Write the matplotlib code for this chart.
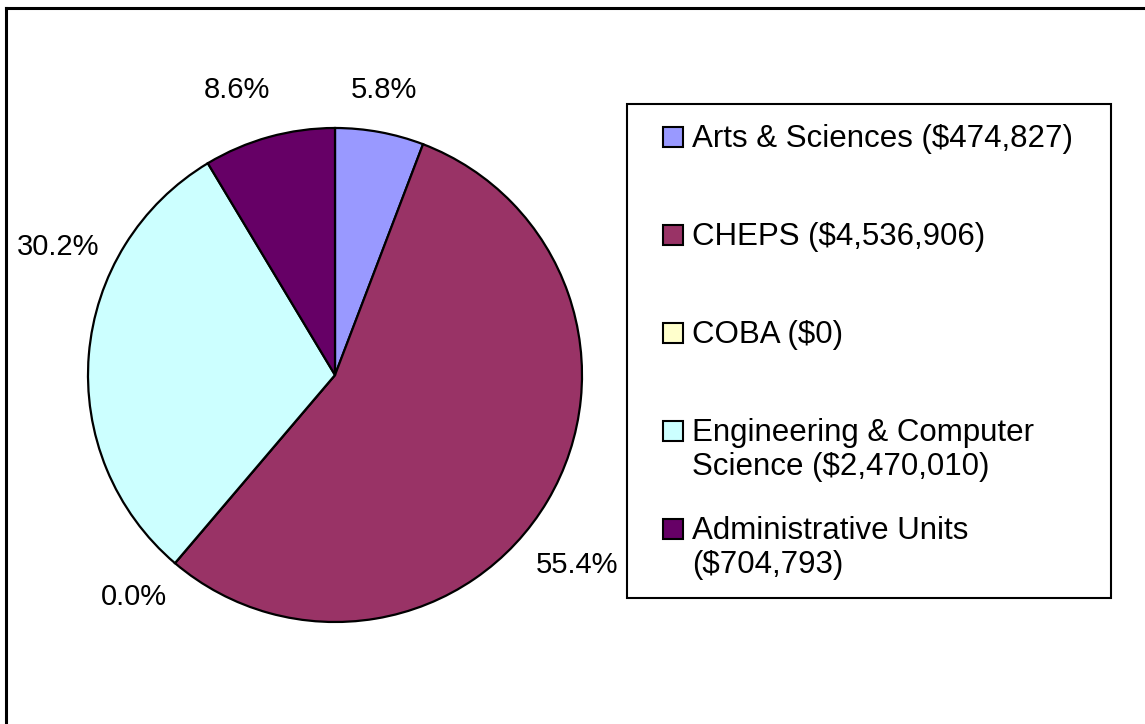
import textwrap
import matplotlib
matplotlib.use("Agg")
import matplotlib.pyplot as plt
from matplotlib.patches import Rectangle
from matplotlib.lines import Line2D

plt.rcParams['font.family'] = ['Liberation Sans', 'DejaVu Sans']

units = ["Arts & Sciences", "CHEPS", "COBA",
         "Engineering & Computer Science", "Administrative Units"]
funding = [474827, 4536906, 0, 2470010, 704793]
colors = ["#9999FF", "#993366", "#FFFFCC", "#CCFFFF", "#660066"]

W, H = 1145, 724
fig = plt.figure(figsize=(W / 100, H / 100), dpi=100)

# pie axes: centre (335, 375) px from top-left, radius 247 px
cx, cy, r = 335, 375, 247
span = 1.45
ax = fig.add_axes([(cx - span * r) / W, (H - cy - span * r) / H,
                   2 * span * r / W, 2 * span * r / H])
wedges, _, pcts = ax.pie(funding, colors=colors, startangle=90, counterclock=False,
                         autopct="%1.1f%%", pctdistance=1.2,
                         wedgeprops=dict(edgecolor="black", linewidth=1.6),
                         textprops=dict(fontsize=21, color="black"))
ax.set_xlim(-span, span)
ax.set_ylim(-span, span)
ax.set_aspect("equal")
ax.axis("off")

# label placement like Excel's "outside end" (radius units)
label_xy = [(0.20, 1.155), (0.98, -0.77), (-0.815, -0.90), (-1.12, 0.52), (-0.395, 1.155)]
for t, (x, y) in zip(pcts, label_xy):
    t.set_position((x, y))
    t.set_ha("center")
    t.set_va("center")
    t.set_clip_on(False)

# legend box, drawn in pixel coords
def px(x, y):
    return x / W, 1 - y / H

bx0, by0, bx1, by1 = 627, 104, 1111, 598
fig.patches.append(Rectangle(px(bx0, by1), (bx1 - bx0) / W, (by1 - by0) / H,
                             transform=fig.transFigure, facecolor="white",
                             edgecolor="black", linewidth=1.5))
base0, step, line_h = 147, 98, 34
for i, (name, val, col) in enumerate(zip(units, funding, colors)):
    base = base0 + i * step
    fig.patches.append(Rectangle(px(663, base), 20 / W, 20 / H,
                                 transform=fig.transFigure, facecolor=col,
                                 edgecolor="black", linewidth=1.5))
    lines = textwrap.wrap(f"{name} (${val:,})", 26)
    for j, ln in enumerate(lines):
        fig.text(*px(692, base + j * line_h), ln, fontsize=22.5,
                 ha="left", va="baseline")

# outer frame (top and left edges only visible)
fig.add_artist(Line2D([6 / W, 1], [1 - 8 / H, 1 - 8 / H], color="black",
                      linewidth=2.2, transform=fig.transFigure))
fig.add_artist(Line2D([6 / W, 6 / W], [1 - 8 / H, 0], color="black",
                      linewidth=2.2, transform=fig.transFigure))

fig.savefig("out.png", dpi=100, facecolor="white")
